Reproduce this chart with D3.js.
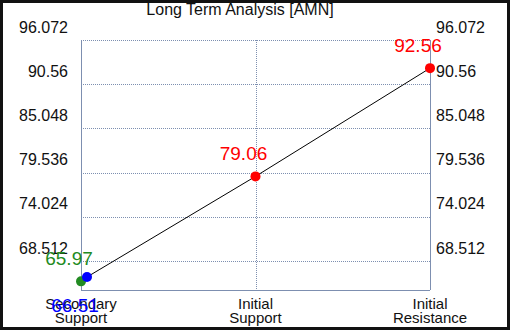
<!DOCTYPE html>
<html>
<head>
<meta charset="utf-8">
<script src="https://cdn.jsdelivr.net/npm/d3@7"></script>
<style>
  body { margin: 0; background: #fff; }
  svg { display: block; font-family: "Liberation Sans", Arial, sans-serif; }
</style>
</head>
<body>
<svg id="chart" width="510" height="330"></svg>
<script>
// chart data
const title = 'Long Term Analysis [AMN]';
const categories = ['Secondary\nSupport', 'Initial\nSupport', 'Initial\nResistance'];
const tickValues = [68.512, 74.024, 79.536, 85.048, 90.56, 96.072];
const points = [
  { label: '65.97', value: 65.97, cat: 0, shift: 0, color: '#228b22', below: false },
  { label: '66.51', value: 66.51, cat: 0, shift: 6, color: '#0000ff', below: true },
  { label: '79.06', value: 79.06, cat: 1, shift: 0, color: '#ff0000', below: false },
  { label: '92.56', value: 92.56, cat: 2, shift: 0, color: '#ff0000', below: false }
];
const lineValues = [66.51, 79.06, 92.56];
const yMin = 64.89;

const width = 510, height = 330;
const margin = { top: 40, right: 80, bottom: 40, left: 81 };

const svg = d3.select('#chart');

// border
svg.append('rect')
  .attr('x', 1.5).attr('y', 1.5)
  .attr('width', width - 3).attr('height', height - 3)
  .attr('fill', '#fff')
  .attr('stroke', '#111')
  .attr('stroke-width', 3);

const xScale = d3.scaleLinear()
  .domain([0, categories.length - 1])
  .range([margin.left, width - margin.right]);

const yScale = d3.scaleLinear()
  .domain([yMin, 96.072])
  .range([height - margin.bottom, margin.top]);

const axisColor = '#7d8fb0';

// horizontal grid
svg.append('g')
  .selectAll('line')
  .data(tickValues)
  .enter()
  .append('line')
  .attr('x1', xScale(0)).attr('x2', xScale(2))
  .attr('y1', d => Math.round(yScale(d)) + 0.5)
  .attr('y2', d => Math.round(yScale(d)) + 0.5)
  .attr('stroke', axisColor)
  .attr('stroke-dasharray', '1,1');

// vertical grid in the middle
svg.append('line')
  .attr('x1', Math.round(xScale(1)) + 0.5).attr('x2', Math.round(xScale(1)) + 0.5)
  .attr('y1', yScale(96.072)).attr('y2', yScale(yMin))
  .attr('stroke', axisColor)
  .attr('stroke-dasharray', '1,1');

// axes frame
svg.append('line')
  .attr('x1', Math.round(xScale(0)) + 0.5).attr('x2', Math.round(xScale(0)) + 0.5)
  .attr('y1', yScale(96.072)).attr('y2', yScale(yMin))
  .attr('stroke', axisColor);
svg.append('line')
  .attr('x1', Math.round(xScale(2)) + 0.5).attr('x2', Math.round(xScale(2)) + 0.5)
  .attr('y1', yScale(96.072)).attr('y2', yScale(yMin))
  .attr('stroke', axisColor);
svg.append('line')
  .attr('x1', xScale(0)).attr('x2', xScale(2))
  .attr('y1', Math.round(yScale(yMin)) + 0.5).attr('y2', Math.round(yScale(yMin)) + 0.5)
  .attr('stroke', axisColor);

// tick labels, both sides
const tickFont = 16;
svg.append('g')
  .selectAll('text')
  .data(tickValues)
  .enter()
  .append('text')
  .attr('x', xScale(0) - 13)
  .attr('y', d => yScale(d) - 13)
  .attr('dy', '0.35em')
  .attr('text-anchor', 'end')
  .attr('font-size', tickFont)
  .attr('fill', '#111')
  .text(d => d);

svg.append('g')
  .selectAll('text')
  .data(tickValues)
  .enter()
  .append('text')
  .attr('x', xScale(2) + 6)
  .attr('y', d => yScale(d) - 13)
  .attr('dy', '0.35em')
  .attr('text-anchor', 'start')
  .attr('font-size', tickFont)
  .attr('fill', '#111')
  .text(d => d);

// category labels
const catGroup = svg.append('g');
categories.forEach((c, i) => {
  const t = catGroup.append('text')
    .attr('x', xScale(i))
    .attr('y', height - margin.bottom + 19)
    .attr('text-anchor', 'middle')
    .attr('font-size', 15)
    .attr('fill', '#111');
  c.split('\n').forEach((part, j) => {
    t.append('tspan')
      .attr('x', xScale(i))
      .attr('dy', j === 0 ? 0 : 14)
      .text(part);
  });
});

// title
svg.append('text')
  .attr('x', 240)
  .attr('y', 15)
  .attr('text-anchor', 'middle')
  .attr('font-size', 16)
  .attr('fill', '#111')
  .text(title);

// connecting line
const line = d3.line()
  .x((d, i) => xScale(i) + (i === 0 ? 6 : 0))
  .y(d => yScale(d));

svg.append('path')
  .datum(lineValues)
  .attr('d', line)
  .attr('fill', 'none')
  .attr('stroke', '#000')
  .attr('stroke-width', 1);

// points
svg.append('g')
  .selectAll('circle')
  .data(points)
  .enter()
  .append('circle')
  .attr('cx', d => xScale(d.cat) + d.shift)
  .attr('cy', d => yScale(d.value))
  .attr('r', 5)
  .attr('fill', d => d.color);

// value labels
svg.append('g')
  .selectAll('text')
  .data(points)
  .enter()
  .append('text')
  .attr('x', d => xScale(d.cat) + d.shift - 12)
  .attr('y', d => yScale(d.value) + (d.below ? 35 : -16))
  .attr('text-anchor', 'middle')
  .attr('font-size', 19)
  .attr('fill', d => d.color)
  .text(d => d.label);
</script>
</body>
</html>
